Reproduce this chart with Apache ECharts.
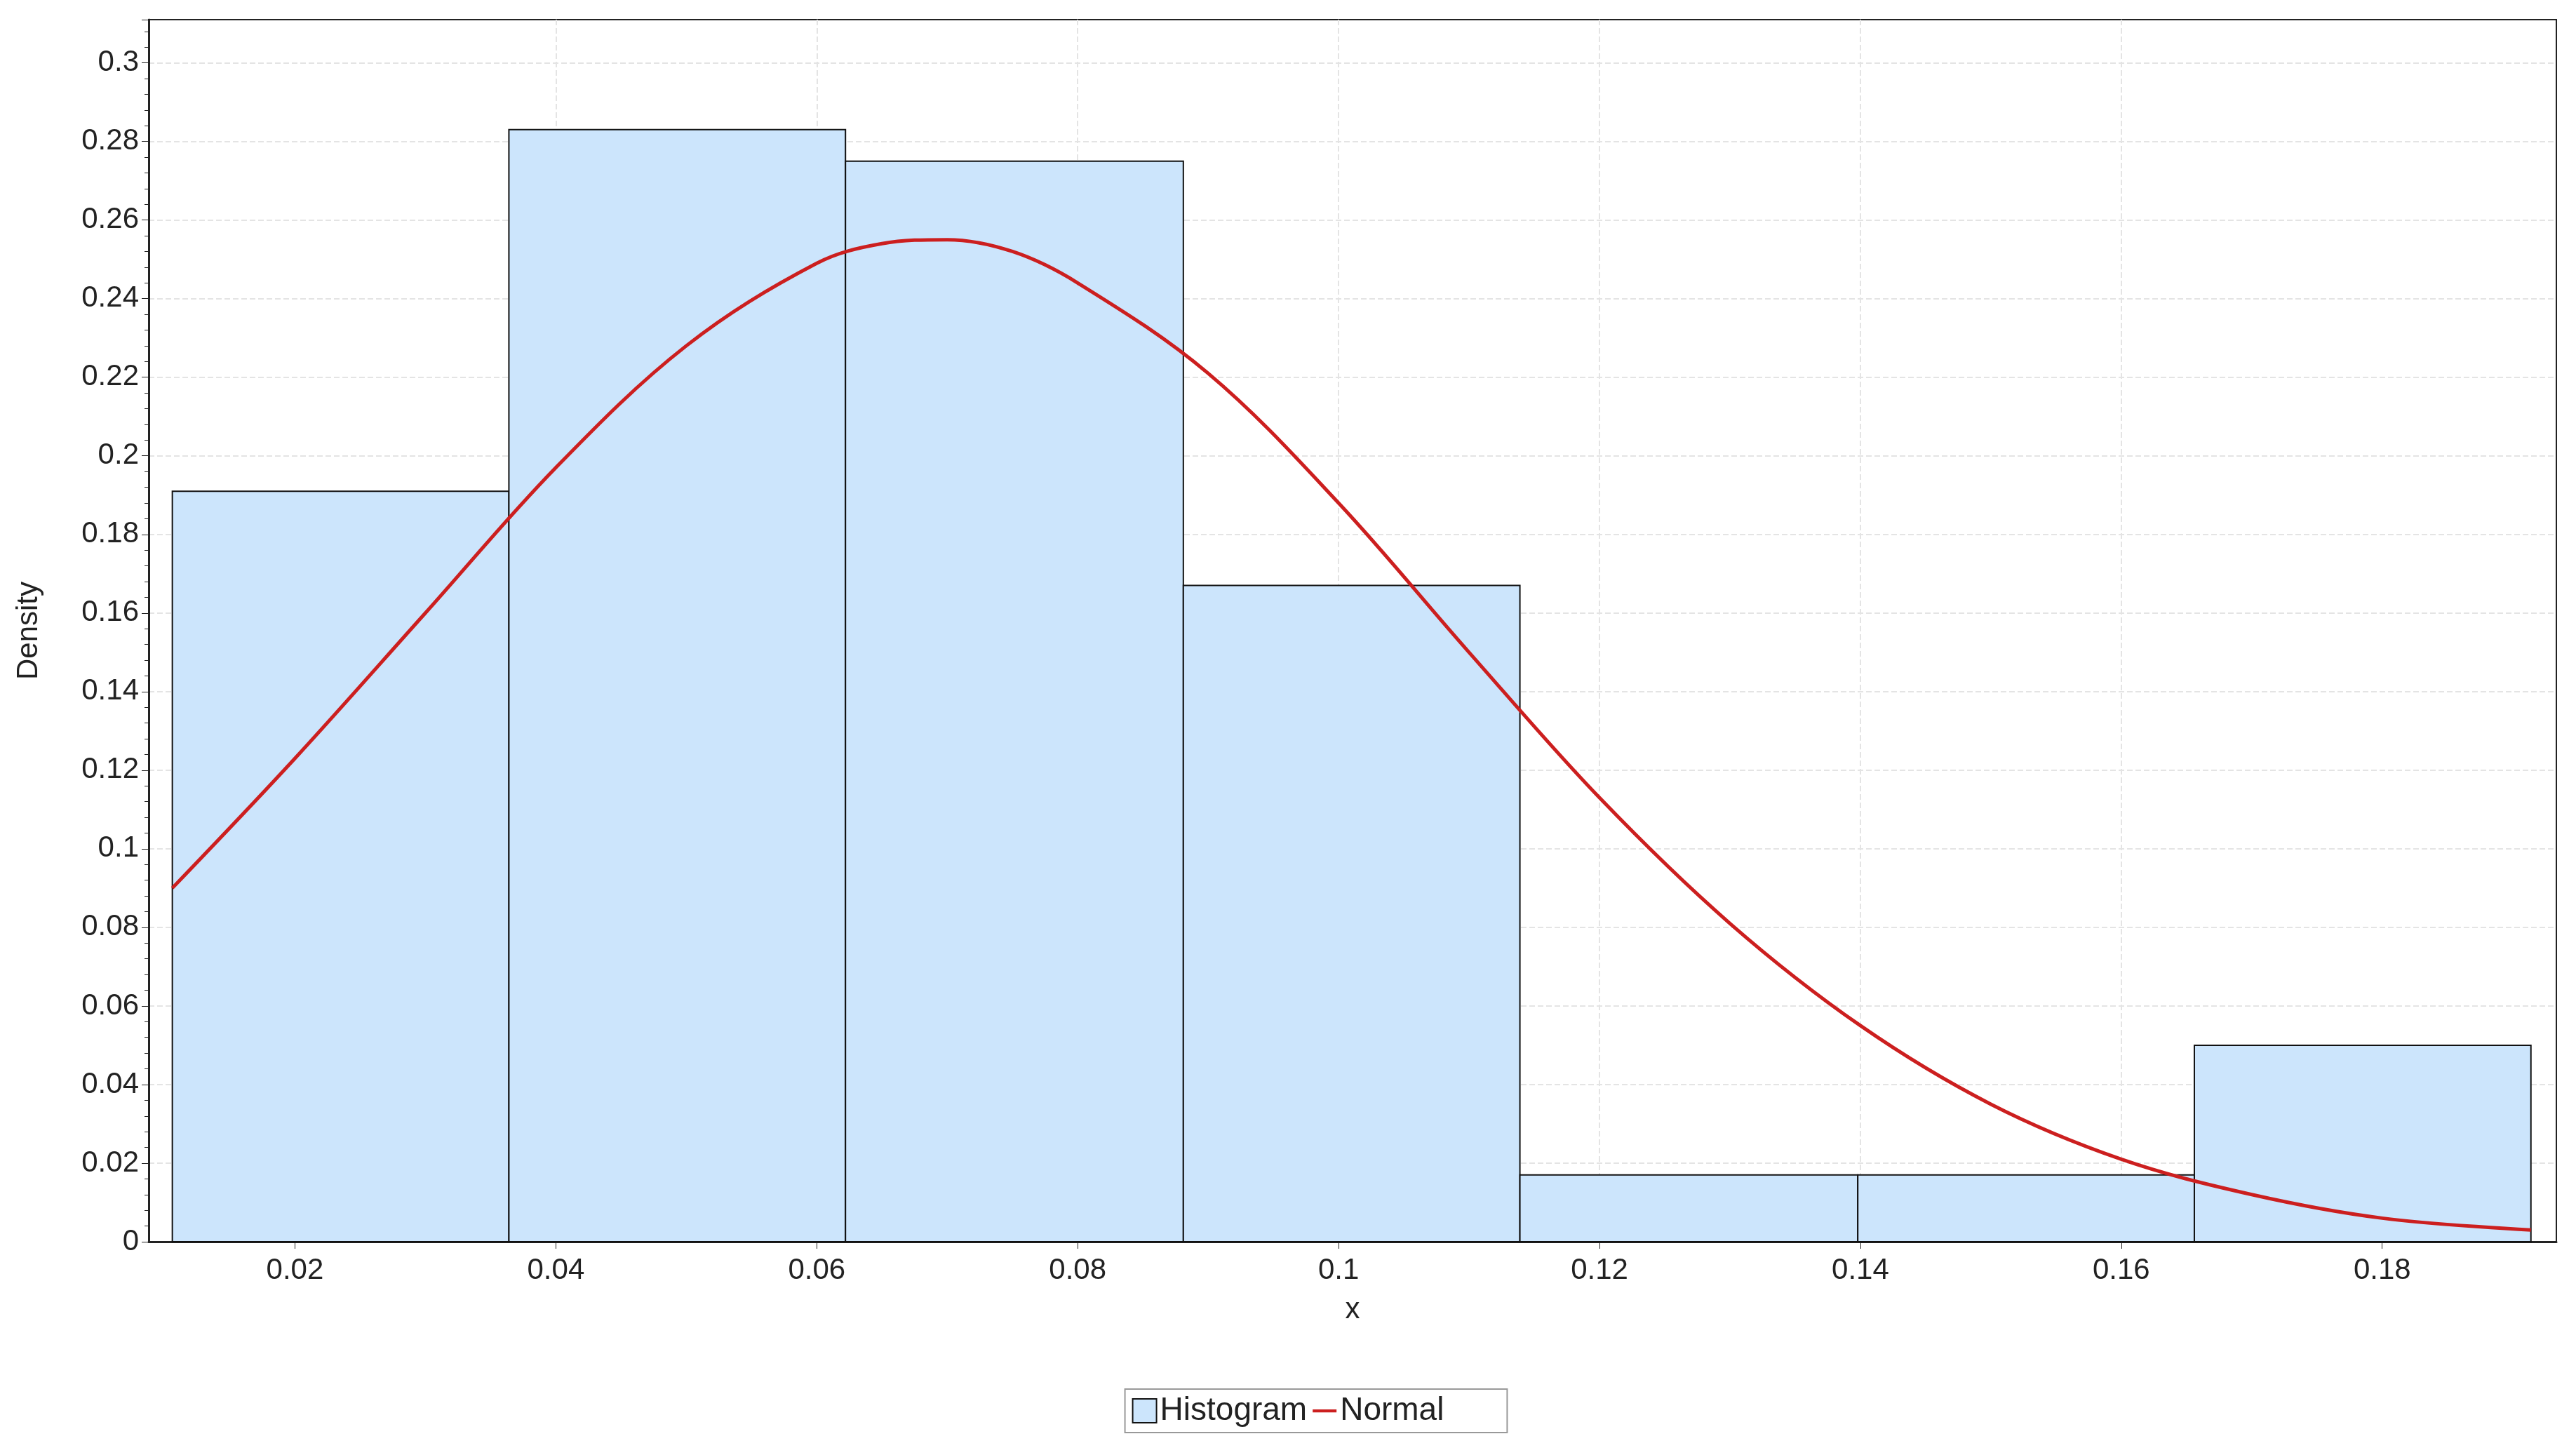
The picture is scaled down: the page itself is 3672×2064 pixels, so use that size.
<!DOCTYPE html>
<html><head><meta charset="utf-8">
<script src="https://cdn.jsdelivr.net/npm/echarts@6/dist/echarts.min.js"></script>
<style>html,body{margin:0;padding:0;background:#fff}#c{width:3672px;height:2064px}</style>
</head><body><div id="c"></div>
<script>
const binStart = [0.0106,0.0364,0.0622,0.0881,0.1139,0.1398,0.1656];
const binEnd   = [0.0364,0.0622,0.0881,0.1139,0.1398,0.1656,0.1914];
const density  = [0.191,0.283,0.275,0.167,0.017,0.017,0.050];
const normalX  = [0.0106,0.02,0.03,0.04,0.05,0.06,0.065,0.07,0.075,0.08,0.09,0.10,0.11,0.12,0.13,0.14,0.15,0.16,0.17,0.18,0.1914];
const normalY  = [0.090,0.123,0.160,0.197,0.228,0.249,0.254,0.255,0.252,0.244,0.221,0.188,0.150,0.113,0.081,0.055,0.035,0.021,0.012,0.006,0.003];
const xTicks   = [0.02,0.04,0.06,0.08,0.1,0.12,0.14,0.16,0.18];

const chart = echarts.init(document.getElementById('c'));
const font = 'Liberation Sans, Arial, sans-serif';
chart.setOption({
  animation:false,
  grid:{left:212,right:28,top:28,bottom:294,show:true,borderColor:'#222',borderWidth:2},
  legend:{bottom:22,left:'center',itemGap:8,padding:[8,90,8,10],borderColor:'#999',borderWidth:2,
    textStyle:{fontFamily:font,fontSize:46,color:'#222'},itemWidth:34,itemHeight:34,
    data:[{name:'Histogram',icon:'rect'},
          {name:'Normal',icon:'path://M0,0 L40,0 L40,5 L0,5 Z',itemStyle:{color:'#cc1f1f'}}]},
  xAxis:{type:'value',min:0.00879,max:0.19335,name:'x',nameLocation:'middle',nameGap:76,
    nameTextStyle:{fontFamily:font,fontSize:42,color:'#222'},
    axisLine:{onZero:false,lineStyle:{color:'#222',width:3}},
    axisTick:{customValues:xTicks,length:10,lineStyle:{color:'#222'}},
    axisLabel:{customValues:xTicks,fontFamily:font,fontSize:42,color:'#222',margin:20},
    splitLine:{show:true,showMinLine:false,showMaxLine:false,lineStyle:{color:'#e4e4e4',type:'dashed',width:2}}},
  yAxis:{type:'value',min:0,max:0.311,name:'Density',nameLocation:'middle',nameGap:150,
    nameTextStyle:{fontFamily:font,fontSize:42,color:'#222'},
    axisLine:{show:true,lineStyle:{color:'#222',width:3}},
    axisTick:{show:true,length:10,lineStyle:{color:'#222'}},
    minorTick:{show:true,splitNumber:5,length:6,lineStyle:{color:'#222'}},
    axisLabel:{customValues:[0,0.02,0.04,0.06,0.08,0.1,0.12,0.14,0.16,0.18,0.2,0.22,0.24,0.26,0.28,0.3],
      fontFamily:font,fontSize:42,color:'#222',margin:14},
    interval:0.02,
    splitLine:{show:true,showMaxLine:false,lineStyle:{color:'#e4e4e4',type:'dashed',width:2}}},
  series:[
    {name:'Histogram',type:'custom',itemStyle:{color:'#cce5fc',borderColor:'#111',borderWidth:2},
     data:density.map((d,i)=>[binStart[i],binEnd[i],d]),
     encode:{x:[0,1],y:2},
     renderItem:(params,api)=>{
       const p0=api.coord([api.value(0),api.value(2)]);
       const p1=api.coord([api.value(1),0]);
       return {type:'rect',shape:{x:p0[0],y:p0[1],width:p1[0]-p0[0],height:p1[1]-p0[1]},
         style:{fill:'#cce5fc',stroke:'#111',lineWidth:2}};
     }},
    {name:'Normal',type:'line',smooth:0.35,showSymbol:false,
     lineStyle:{color:'#cc1f1f',width:5},itemStyle:{color:'#cc1f1f'},
     data:normalX.map((x,i)=>[x,normalY[i]]),z:5}
  ]
});
</script></body></html>
